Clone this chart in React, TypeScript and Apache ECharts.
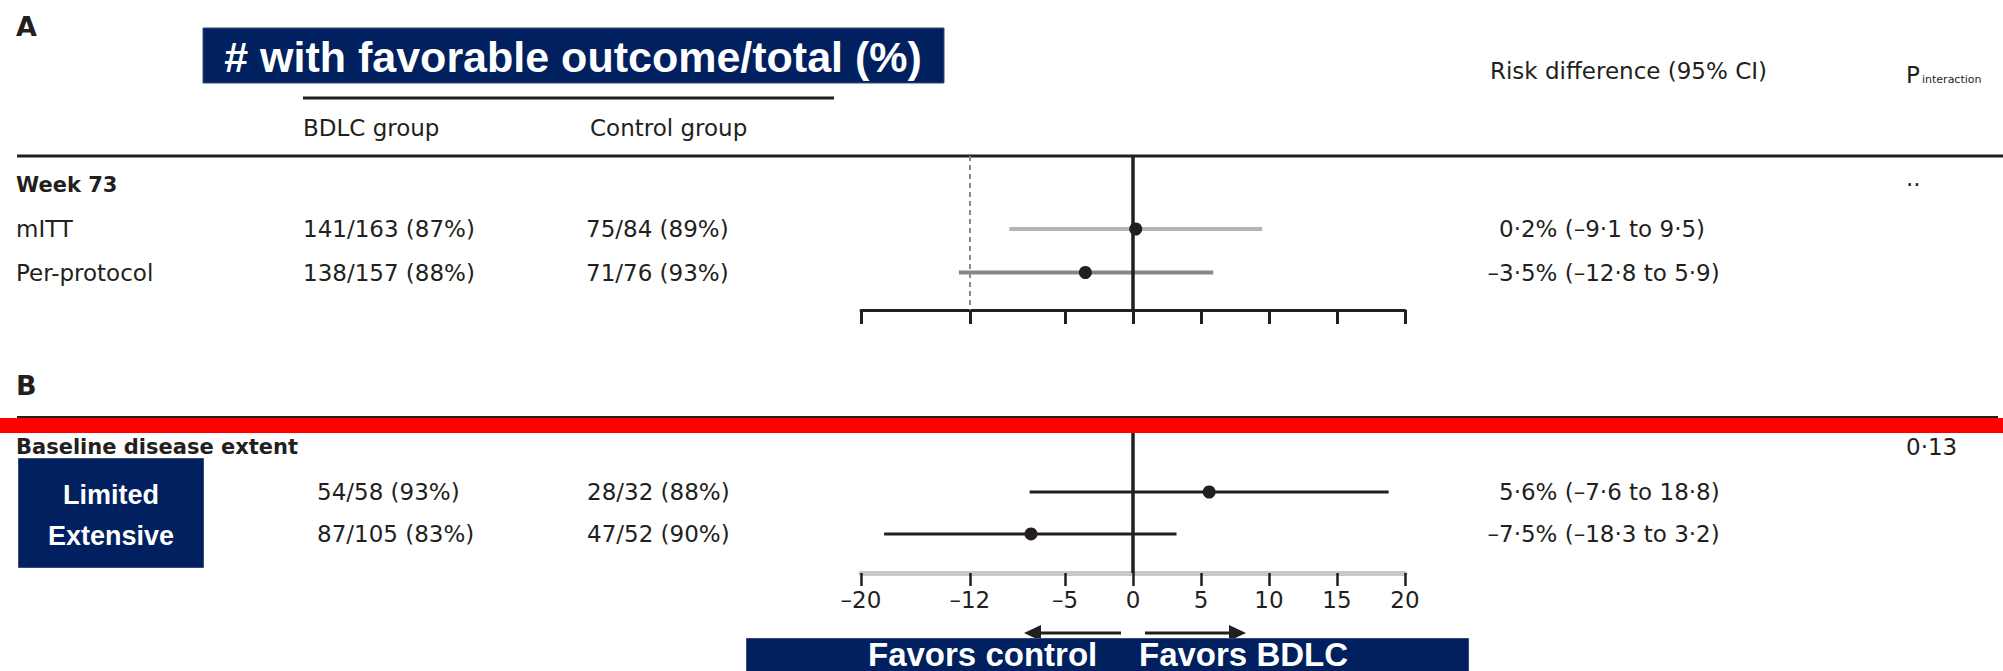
import React, { useEffect, useRef } from 'react';
import * as echarts from 'echarts';

// ---------------- data ----------------
const tickValues = [-20, -12, -5, 0, 5, 10, 15, 20];
const nonInferiorityMargin = -12;

const titleText = '# with favorable outcome/total (%)';
const groupHeaders = ['BDLC group', 'Control group'];
const riskHeader = 'Risk difference (95% CI)';
const pHeader = 'P';
const pHeaderSub = 'interaction';
const panelLetters = ['A', 'B'];
const favorsLabels = ['Favors control', 'Favors BDLC'];

const panelARowLabels = ['Week 73', 'mITT', 'Per-protocol'];
const panelABdlc = ['', '141/163 (87%)', '138/157 (88%)'];
const panelAControl = ['', '75/84 (89%)', '71/76 (93%)'];
const panelAEstimate = [null, 0.2, -3.5];
const panelALower = [null, -9.1, -12.8];
const panelAUpper = [null, 9.5, 5.9];
const panelARiskText = ['', '0·2% (–9·1 to 9·5)', '–3·5% (–12·8 to 5·9)'];
const panelAP = ['··', '', ''];

const panelBRowLabels = ['Baseline disease extent', 'Limited', 'Extensive'];
const panelBBdlc = ['', '54/58 (93%)', '87/105 (83%)'];
const panelBControl = ['', '28/32 (88%)', '47/52 (90%)'];
const panelBEstimate = [null, 5.6, -7.5];
const panelBLower = [null, -7.6, -18.3];
const panelBUpper = [null, 18.8, 3.2];
const panelBRiskText = ['', '5·6% (–7·6 to 18·8)', '–7·5% (–18·3 to 3·2)'];
const panelBP = ['0·13', '', ''];

// ---------------- styles ----------------
const INK = '#231f20';
const NAVY = '#002060';
const NAVY_EDGE = '#3a4a72';
const RED = '#ff0000';
const TEXT_FONT = 'DejaVu Sans';
const BOX_FONT = 'Liberation Sans';
const ciColorsA = ['#000', '#b4b4b4', '#878787'];
const ciColorsB = ['#000', INK, INK];

function tableSeries(
  grid: number,
  labels: string[],
  bdlc: string[],
  control: string[],
  risk: string[],
  pvals: string[],
  bdlcX: number,
  controlX: number,
  labelRows: number[],
  headerDy: number
) {
  return {
    type: 'custom',
    xAxisIndex: grid,
    yAxisIndex: grid,
    clip: false,
    silent: true,
    z: 3,
    data: labels.map((_, i) => [0, i]),
    encode: { x: 0, y: 1 },
    renderItem: (params: any, api: any) => {
      const i = params.dataIndex;
      const y = api.coord([0, api.value(1)])[1];
      const children: any[] = [];
      const add = (text: string, x: number, bold: boolean, dy = 0) => {
        if (!text) return;
        children.push({
          type: 'text',
          x,
          y: y + dy,
          style: {
            text,
            fill: INK,
            fontFamily: TEXT_FONT,
            fontSize: bold ? 21 : 23,
            fontWeight: bold ? 'bold' : 'normal',
            align: 'left',
            verticalAlign: 'middle',
          },
        });
      };
      if (labelRows.indexOf(i) >= 0) add(labels[i], 16, i === 0, i === 0 ? headerDy : 0);
      add(bdlc[i], bdlcX, false);
      add(control[i], controlX, false);
      const r = risk[i];
      if (r) add(r, 1499 - (r.charAt(0) === '–' ? 11.5 : 0), false);
      add(pvals[i], 1906, false, i === 0 ? headerDy : 0);
      return { type: 'group', children };
    },
  };
}

function forestSeries(
  grid: number,
  est: (number | null)[],
  lo: (number | null)[],
  hi: (number | null)[],
  colors: string[],
  width: number,
  marks: any[]
) {
  const data: any[] = [];
  est.forEach((e, i) => {
    if (e !== null) data.push([i, e, lo[i], hi[i]]);
  });
  return {
    type: 'custom',
    xAxisIndex: grid,
    yAxisIndex: grid,
    clip: false,
    silent: true,
    z: 4,
    data,
    encode: { x: [1, 2, 3], y: 0 },
    renderItem: (params: any, api: any) => {
      const row = api.value(0);
      const p = api.coord([api.value(1), row]);
      const l = api.coord([api.value(2), row]);
      const h = api.coord([api.value(3), row]);
      return {
        type: 'group',
        children: [
          {
            type: 'line',
            shape: { x1: l[0], y1: l[1], x2: h[0], y2: h[1] },
            style: { stroke: colors[row], lineWidth: width },
          },
          {
            type: 'circle',
            shape: { cx: p[0], cy: p[1], r: 6.5 },
            style: { fill: INK },
            z2: 10,
          },
        ],
      };
    },
    markLine: {
      silent: true,
      symbol: ['none', 'none'],
      label: { show: false },
      emphasis: { disabled: true },
      data: marks,
    },
  };
}

const tickFmt = (v: number) => (v < 0 ? '–' + Math.abs(v) : String(v));

function buildOption() {
  const xBase = {
    type: 'value',
    min: tickValues[0],
    max: tickValues[tickValues.length - 1],
    position: 'bottom',
    splitLine: { show: false },
  };
  const graphic: any[] = [
    // panel letters
    { type: 'text', x: 16, y: 26, style: { text: panelLetters[0], fill: INK, fontFamily: TEXT_FONT, fontWeight: 'bold', fontSize: 27, verticalAlign: 'middle' } },
    { type: 'text', x: 16, y: 385, style: { text: panelLetters[1], fill: INK, fontFamily: TEXT_FONT, fontWeight: 'bold', fontSize: 27, verticalAlign: 'middle' } },
    // title box
    { type: 'rect', shape: { x: 203, y: 28, width: 741, height: 55 }, style: { fill: NAVY, stroke: NAVY_EDGE, lineWidth: 1 }, z: 50 },
    { type: 'text', x: 573, y: 57, z: 51, style: { text: titleText, fill: '#fff', fontFamily: BOX_FONT, fontWeight: 'bold', fontSize: 43, align: 'center', verticalAlign: 'middle' } },
    // header rule under title
    { type: 'line', shape: { x1: 303, y1: 98, x2: 834, y2: 98 }, style: { stroke: INK, lineWidth: 3 } },
    { type: 'text', x: 303, y: 128, style: { text: groupHeaders[0], fill: INK, fontFamily: TEXT_FONT, fontSize: 23, verticalAlign: 'middle' } },
    { type: 'text', x: 590, y: 128, style: { text: groupHeaders[1], fill: INK, fontFamily: TEXT_FONT, fontSize: 23, verticalAlign: 'middle' } },
    { type: 'text', x: 1490, y: 71, style: { text: riskHeader, fill: INK, fontFamily: TEXT_FONT, fontSize: 23, verticalAlign: 'middle' } },
    { type: 'text', x: 1906, y: 75, style: { text: pHeader, fill: INK, fontFamily: TEXT_FONT, fontSize: 23, verticalAlign: 'middle' } },
    { type: 'text', x: 1922, y: 79.5, style: { text: pHeaderSub, fill: INK, fontFamily: TEXT_FONT, fontSize: 11, verticalAlign: 'middle' } },
    // full rule
    { type: 'line', shape: { x1: 17, y1: 156, x2: 2003, y2: 156 }, style: { stroke: INK, lineWidth: 3 } },
    // panel B rule + red band
    { type: 'line', shape: { x1: 17, y1: 417, x2: 1998, y2: 417 }, style: { stroke: INK, lineWidth: 2 }, z: 40 },
    { type: 'rect', shape: { x: 0, y: 418, width: 2003, height: 15 }, style: { fill: RED }, z: 41 },
    // subgroup box
    { type: 'rect', shape: { x: 18.5, y: 458.5, width: 185, height: 109 }, style: { fill: NAVY, stroke: NAVY_EDGE, lineWidth: 1 }, z: 50 },
    { type: 'text', x: 111, y: 495, z: 51, style: { text: panelBRowLabels[1], fill: '#fff', fontFamily: BOX_FONT, fontWeight: 'bold', fontSize: 27, align: 'center', verticalAlign: 'middle' } },
    { type: 'text', x: 111, y: 536, z: 51, style: { text: panelBRowLabels[2], fill: '#fff', fontFamily: BOX_FONT, fontWeight: 'bold', fontSize: 27, align: 'center', verticalAlign: 'middle' } },
    // arrows
    { type: 'line', shape: { x1: 1121, y1: 633, x2: 1036, y2: 633 }, style: { stroke: INK, lineWidth: 3 } },
    { type: 'polygon', shape: { points: [[1024, 633], [1041, 625], [1041, 641]] }, style: { fill: INK } },
    { type: 'line', shape: { x1: 1145, y1: 633, x2: 1233, y2: 633 }, style: { stroke: INK, lineWidth: 3 } },
    { type: 'polygon', shape: { points: [[1246, 633], [1229, 625], [1229, 641]] }, style: { fill: INK } },
    // favors box
    { type: 'rect', shape: { x: 746.5, y: 638.5, width: 722, height: 45 }, style: { fill: NAVY, stroke: NAVY_EDGE, lineWidth: 1 }, z: 50 },
    { type: 'text', x: 868, y: 654, z: 51, style: { text: favorsLabels[0], fill: '#fff', fontFamily: BOX_FONT, fontWeight: 'bold', fontSize: 33, verticalAlign: 'middle' } },
    { type: 'text', x: 1139, y: 654, z: 51, style: { text: favorsLabels[1], fill: '#fff', fontFamily: BOX_FONT, fontWeight: 'bold', fontSize: 33, verticalAlign: 'middle' } },
  ];

  return {
    animation: false,
    backgroundColor: '#fff',
    grid: [
      { left: 861, width: 544, top: 156, height: 154 },
      { left: 861, width: 544, top: 433, height: 140 },
    ],
    xAxis: [
      {
        ...xBase,
        gridIndex: 0,
        axisLine: { show: true, onZero: false, lineStyle: { color: INK, width: 3 } },
        axisTick: { show: true, customValues: tickValues, length: 14, lineStyle: { color: INK, width: 3 } },
        axisLabel: { show: false },
      },
      {
        ...xBase,
        gridIndex: 1,
        axisLine: { show: true, onZero: false, lineStyle: { color: '#c8c8c8', width: 5 } },
        axisTick: { show: true, customValues: tickValues, length: 13, lineStyle: { color: INK, width: 2.5 } },
        axisLabel: {
          show: true,
          customValues: tickValues,
          formatter: tickFmt,
          fontFamily: TEXT_FONT,
          fontSize: 23,
          color: INK,
          margin: 15,
        },
      },
    ],
    yAxis: [
      { type: 'value', gridIndex: 0, inverse: true, min: -0.678, max: 2.862, show: false, splitLine: { show: false } },
      { type: 'value', gridIndex: 1, inverse: true, min: -0.405, max: 2.929, show: false, splitLine: { show: false } },
    ],
    series: [
      forestSeries(0, panelAEstimate, panelALower, panelAUpper, ciColorsA, 4, [
        { xAxis: 0, lineStyle: { color: INK, width: 3.5, type: 'solid' } },
        { xAxis: nonInferiorityMargin, lineStyle: { color: '#8a8a8a', width: 2, type: [5, 4] } },
      ]),
      forestSeries(1, panelBEstimate, panelBLower, panelBUpper, ciColorsB, 3, [
        { xAxis: 0, lineStyle: { color: INK, width: 3.5, type: 'solid' } },
      ]),
      tableSeries(0, panelARowLabels, panelABdlc, panelAControl, panelARiskText, panelAP, 303, 586, [0, 1, 2], 0),
      tableSeries(1, panelBRowLabels, panelBBdlc, panelBControl, panelBRiskText, panelBP, 317, 587, [0], -3),
    ],
    graphic,
  };
}

export default function App() {
  const ref = useRef<HTMLDivElement>(null);
  useEffect(() => {
    document.body.style.margin = '0';
    const chart = echarts.init(ref.current as HTMLDivElement, null, { renderer: 'svg' });
    chart.setOption(buildOption() as any);
    return () => chart.dispose();
  }, []);
  return <div ref={ref} style={{ width: 2003, height: 671 }} />;
}
